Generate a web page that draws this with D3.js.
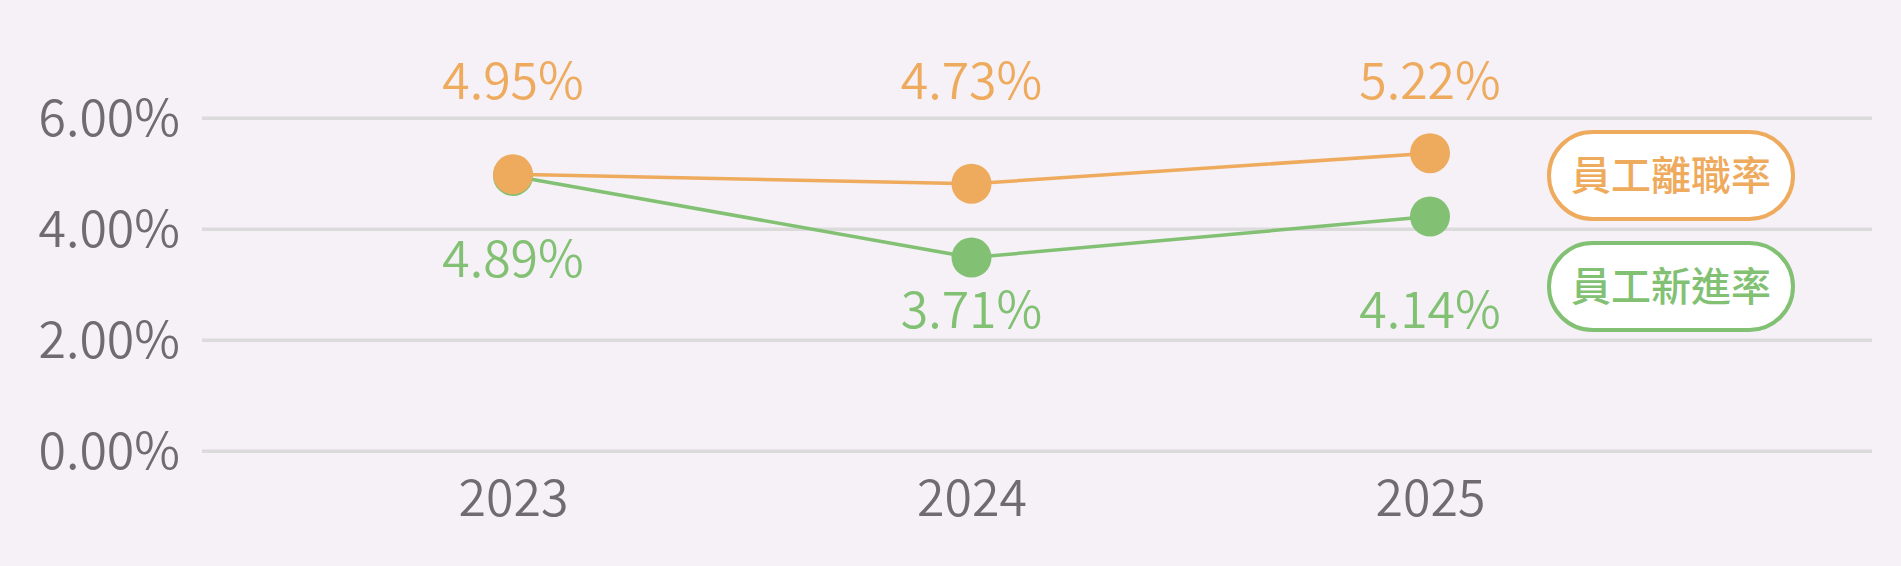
<!DOCTYPE html>
<html>
<head>
<meta charset="utf-8">
<script src="https://cdn.jsdelivr.net/npm/d3@7"></script>
<style>
  html, body { margin: 0; padding: 0; background: #f5f1f7; }
  svg text { font-family: "Noto Sans CJK TC", "Noto Sans", sans-serif; }
</style>
</head>
<body>
<div id="chart"></div>
<script>
// data
const years = ["2023", "2024", "2025"];
const leaveRate = [4.98, 4.81, 5.36];
const hireRate = [4.95, 3.48, 4.22];
const leaveLabels = ["4.95%", "4.73%", "5.22%"];
const hireLabels = ["4.89%", "3.71%", "4.14%"];
const yTicks = [0, 2, 4, 6];
const seriesNames = ["員工離職率", "員工新進率"];

const svgWidth = 1901;
const svgHeight = 566;

const orange = "#eeaa5d";
const green = "#82c173";
const gray = "#6f6b70";

const gridLeft = 202;
const gridRight = 1872;

const svg = d3.select("#chart")
  .append("svg")
  .attr("width", svgWidth)
  .attr("height", svgHeight);

svg.append("rect")
  .attr("width", svgWidth)
  .attr("height", svgHeight)
  .attr("fill", "#f5f1f7");

const x = d3.scalePoint()
  .domain(years)
  .range([513, 1430]);

const y = d3.scaleLinear()
  .domain([0, 6])
  .range([450.7, 117.7]);

// y axis with gridlines
const leftAxis = d3.axisLeft(y)
  .tickValues(yTicks)
  .tickSize(-(gridRight - gridLeft))
  .tickPadding(22)
  .tickFormat(d => d.toFixed(2) + "%");

const yAxis = svg.append("g")
  .attr("transform", `translate(${gridLeft}, 0)`)
  .call(leftAxis);

yAxis.select(".domain").remove();
yAxis.selectAll(".tick line")
  .attr("stroke", "#dcdbdc")
  .attr("stroke-width", 3.5);
yAxis.selectAll(".tick text")
  .attr("fill", gray)
  .attr("font-size", 50)
  .attr("font-weight", 350)
  .attr("dy", "0.36em");

// x axis labels
const bottomAxis = d3.axisBottom(x)
  .tickSize(0)
  .tickPadding(30);

const xAxis = svg.append("g")
  .attr("transform", `translate(0, ${y(0)})`)
  .call(bottomAxis);

xAxis.select(".domain").remove();
xAxis.selectAll(".tick text")
  .attr("fill", gray)
  .attr("font-size", 50)
  .attr("font-weight", 350);

const series = [
  { name: seriesNames[0], values: leaveRate, labels: leaveLabels, color: orange },
  { name: seriesNames[1], values: hireRate, labels: hireLabels, color: green }
];

const line = d3.line()
  .x((d, i) => x(years[i]))
  .y(d => y(d));

// draw green first so orange sits on top at 2023
series.slice().reverse().forEach(s => {
  svg.append("path")
    .datum(s.values)
    .attr("fill", "none")
    .attr("stroke", s.color)
    .attr("stroke-width", 3.5)
    .attr("d", line);
});

series.slice().reverse().forEach(s => {
  svg.append("g")
    .selectAll("circle")
    .data(s.values)
    .enter()
    .append("circle")
    .attr("cx", (d, i) => x(years[i]))
    .attr("cy", d => y(d))
    .attr("r", 20)
    .attr("fill", s.color);
});

// value labels (placed in rows as in the picture)
const labelRows = [
  [99, 99, 99],
  [277, 328, 328]
];

series.forEach((s, k) => {
  svg.append("g")
    .selectAll("text")
    .data(s.labels)
    .enter()
    .append("text")
    .attr("x", (d, i) => x(years[i]))
    .attr("y", (d, i) => labelRows[k][i])
    .attr("text-anchor", "middle")
    .attr("fill", s.color)
    .attr("font-size", 50)
    .attr("font-weight", 350)
    .text(d => d);
});

// legend pills
const pillW = 244, pillH = 87;
const pillX = 1549;
const pillY = [132, 243];

const legend = svg.append("g")
  .selectAll("g")
  .data(series)
  .enter()
  .append("g")
  .attr("transform", (d, i) => `translate(${pillX}, ${pillY[i]})`);

legend.append("rect")
  .attr("width", pillW)
  .attr("height", pillH)
  .attr("rx", pillH / 2)
  .attr("ry", pillH / 2)
  .attr("fill", "#ffffff")
  .attr("stroke", d => d.color)
  .attr("stroke-width", 4);

legend.append("text")
  .attr("x", pillW / 2)
  .attr("y", pillH / 2)
  .attr("dy", "0.36em")
  .attr("text-anchor", "middle")
  .attr("fill", d => d.color)
  .attr("font-size", 40)
  .attr("font-weight", 500)
  .text(d => d.name);
</script>
</body>
</html>
